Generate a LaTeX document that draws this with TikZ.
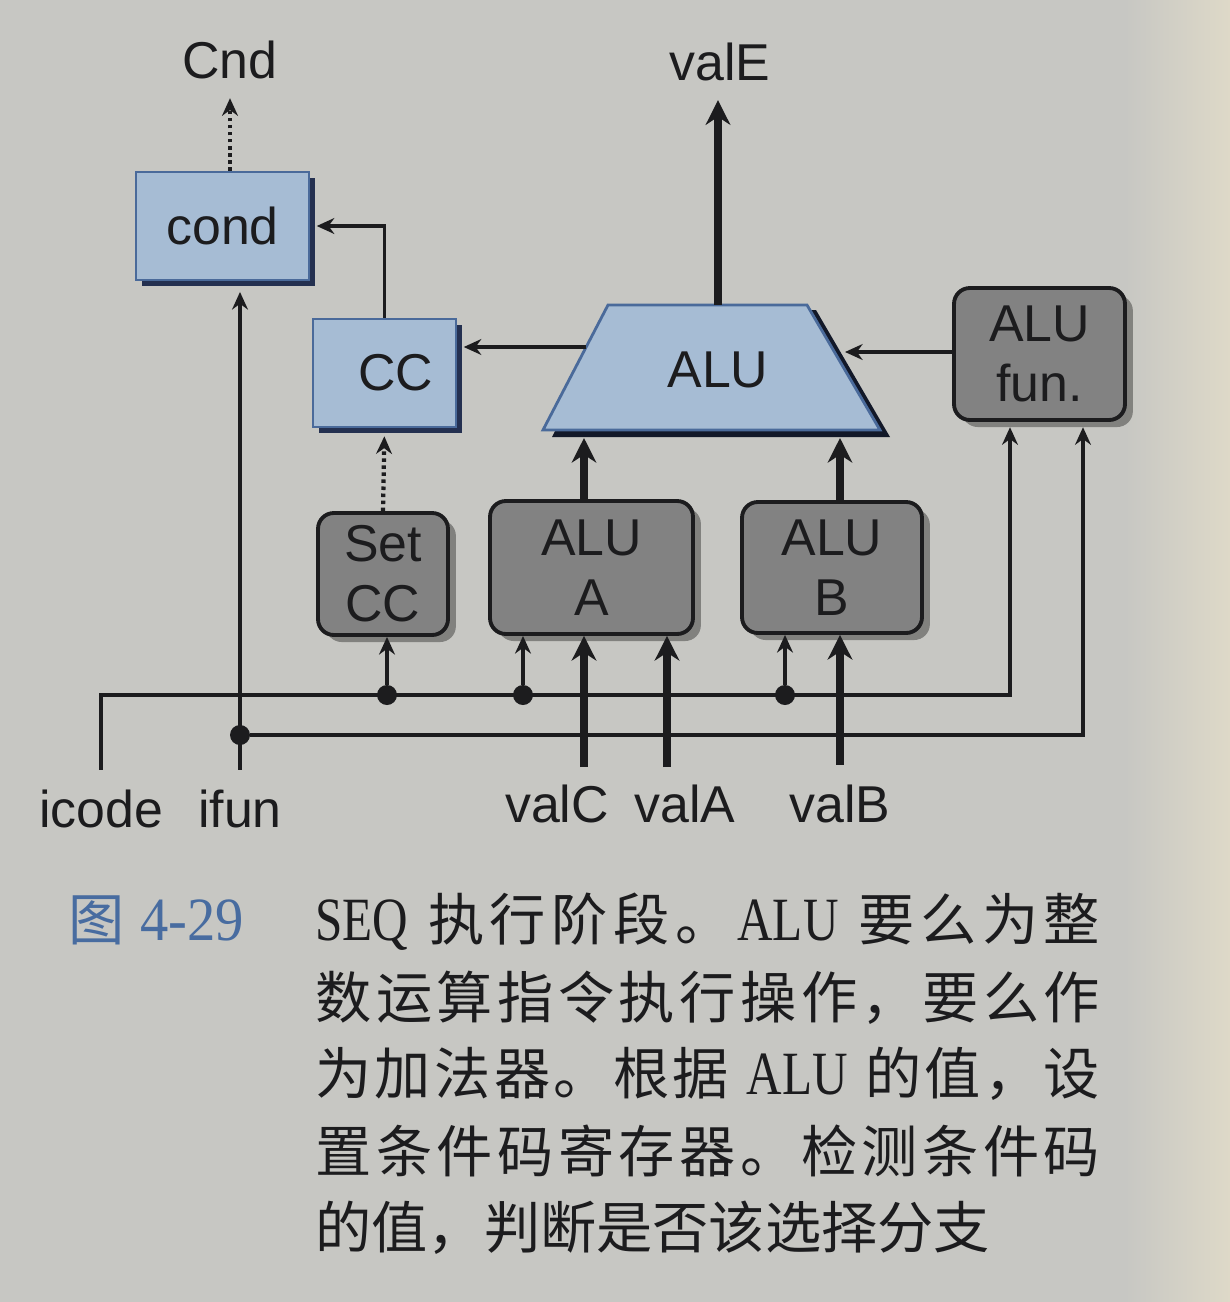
\documentclass[tikz,border=0pt]{standalone}
\usepackage{fontspec}
\usepackage{graphicx}
\setmainfont{Liberation Sans}
\newfontfamily\cjk{Noto Sans CJK SC}
\newfontfamily\capserif{Liberation Serif}
\usetikzlibrary{arrows.meta, shadows}
\definecolor{paper}{RGB}{199,199,195}
\definecolor{paperlit}{RGB}{222,217,200}
\definecolor{myink}{RGB}{28,28,30}
\definecolor{boxblue}{RGB}{166,188,212}
\definecolor{edgeblue}{RGB}{74,106,154}
\definecolor{shadeblue}{RGB}{36,48,80}
\definecolor{boxgray}{RGB}{130,130,130}
\definecolor{capblue}{RGB}{72,108,160}
\newcommand{\lat}[1]{{\capserif\fontsize{35}{38}\selectfont\scalebox{0.8}[1]{#1}}}
\newcommand{\capline}[1]{\hbox to 15.7cm{\spaceskip=0pt plus 1fil\relax #1}}
\tikzset{
  lbl/.style={font=\fontsize{29.5}{34}\selectfont, text=myink, inner sep=11pt},
  bluebox/.style={rectangle, draw=edgeblue, fill=boxblue, line width=1.6pt,
    inner sep=0pt, font=\fontsize{29.5}{34}\selectfont, text=myink,
    drop shadow={shadow xshift=3.6pt, shadow yshift=-3.6pt, fill=shadeblue, opacity=1}},
  graybox/.style={rectangle, rounded corners=9pt, draw=myink, fill=boxgray,
    line width=2.2pt, inner sep=0pt, align=center,
    font=\fontsize{29.5}{34}\selectfont, text=myink,
    drop shadow={shadow xshift=4.5pt, shadow yshift=-4pt, fill=black, opacity=0.35}},
  junction/.style={circle, fill=myink, inner sep=0pt, minimum size=0.4cm},
  wire/.style={line width=2pt, color=myink},
  arrow/.style={wire, -{Stealth[length=10pt, width=9pt]}},
  busarrow/.style={line width=4pt, color=myink, -{Stealth[length=14pt, width=14pt]}},
  dotarrow/.style={arrow, line width=2.4pt, dash pattern=on 2pt off 2pt},
  caption/.style={inner sep=0pt, anchor=base west, text=myink,
    font=\cjk\fontsize{32}{38}\selectfont}
}

\begin{document}
\begin{tikzpicture}[x=0.02cm, y=-0.02cm]
  \useasboundingbox (0,0) rectangle (1230,1302);
  \fill[paper] (0,0) rectangle (1230,1302);
  \shade[left color=paper, right color=paperlit] (1125,0) rectangle (1230,1302);

  % ALU
  \fill[shadeblue!50!black] (552,437) -- (890,437) -- (816,310) -- (617,310) -- cycle;
  \filldraw[fill=boxblue, draw=edgeblue, line width=1.6pt] (543,430) -- (880,430) -- (807,305) -- (608,305) -- cycle;
  \node[lbl, inner sep=0pt] (alu) at (718,370) {ALU};
  \coordinate (alutop) at (718,305);
  \coordinate (alubot) at (718,438);
  \coordinate (aluout) at (586,347);
  \coordinate (aluin) at (845,352);

  % blocks
  \node[bluebox, minimum width=3.46cm, minimum height=2.16cm] (cond) at (222.5,226) {cond};
  \node[bluebox, minimum width=2.86cm, minimum height=2.16cm] (cc) at (384.5,373) {\hspace*{0.46cm}CC};
  \node[graybox, minimum width=2.6cm, minimum height=2.44cm] (setcc) at (383,574) {Set\\CC};
  \node[graybox, minimum width=4.06cm, minimum height=2.66cm] (aluA) at (591.5,567.5) {ALU\\A};
  \node[graybox, minimum width=3.6cm, minimum height=2.62cm] (aluB) at (832,567.5) {ALU\\B};
  \node[graybox, minimum width=3.42cm, minimum height=2.64cm] (fun) at (1039.5,354) {ALU\\fun.};

  % signal names
  \node[lbl, anchor=base] (cnd) at (230,78) {Cnd};
  \node[lbl, anchor=base] (vale) at (720,80) {valE};
  \node[lbl, anchor=base] (icode) at (101,827) {icode};
  \node[lbl, anchor=base] (ifun) at (240,827) {ifun};
  \node[lbl, anchor=base] (valc) at (557,822) {valC};
  \node[lbl, anchor=base] (vala) at (685,822) {valA};
  \node[lbl, anchor=base] (valb) at (840,822) {valB};
  \coordinate (valCin) at (584,767);
  \coordinate (valAin) at (667,767);
  \coordinate (funA) at (1010,695);
  \coordinate (funB) at (1083,735);

  % junctions
  \node[junction] (jset) at (387,695) {};
  \node[junction] (jaluA) at (523,695) {};
  \node[junction] (jaluB) at (785,695) {};
  \node[junction] (jifun) at (ifun.north |- funB) {};

  % control wires
  \draw[arrow, shorten >=3pt] (icode.north) |- (funA) -- (funA |- fun.south);
  \draw[arrow, shorten >=3pt] (jifun) -- (funB) -- (funB |- fun.south);
  \draw[arrow, shorten >=6pt] (ifun.north) -- (ifun.north |- cond.south);
  \draw[arrow] (jset) -- (jset |- setcc.south);
  \draw[arrow] (jaluA) -- (jaluA |- aluA.south);
  \draw[arrow] (jaluB) -- (jaluB |- aluB.south);

  % data
  \draw[busarrow] (valCin) -- (valCin |- aluA.south);
  \draw[busarrow] (valAin) -- (valAin |- aluA.south);
  \draw[busarrow] (valb.north) -- (valb.north |- aluB.south);
  \draw[busarrow] (aluA.north -| valCin) -- (valCin |- alubot);
  \draw[busarrow] (aluB.north -| valb.north) -- (valb.north |- alubot);
  \draw[busarrow] (alutop) -- (alutop |- vale.south);

  \draw[arrow] (fun.west |- aluin) -- (aluin);
  \draw[arrow, shorten >=3.6pt] (aluout) -- (aluout -| cc.east);
  \draw[arrow, shorten >=3.6pt] (cc.north) |- (cond.east);
  \draw[dotarrow, shorten >=4.5pt] (setcc.north) -- (cc.south);
  \draw[dotarrow] (cond.north -| cnd.south) -- (cnd.south);

  % caption
  \node[caption, text=capblue] (fig) at (68,940) {图};
  \node[caption, text=capblue] (fignum) at (140,940) {{\capserif\fontsize{35}{38}\selectfont\scalebox{0.92}[1]{4-29}}};
  \node[caption] (cap1) at (315,940) {\capline{\lat{SEQ}\kern0.25em{} 执 行 阶 段 。 \lat{ALU}\kern0.25em{} 要 么 为 整}};
  \node[caption] (cap2) at (315,1018) {\capline{数 运 算 指 令 执 行 操 作 ， 要 么 作}};
  \node[caption] (cap3) at (315,1094) {\capline{为 加 法 器 。 根 据 \kern0.25em\lat{ALU}\kern0.25em{} 的 值 ， 设}};
  \node[caption] (cap4) at (315,1172) {\capline{置 条 件 码 寄 存 器 。 检 测 条 件 码}};
  \node[caption] (cap5) at (315,1248) {的值，判断是否该选择分支};
\end{tikzpicture}
\end{document}
